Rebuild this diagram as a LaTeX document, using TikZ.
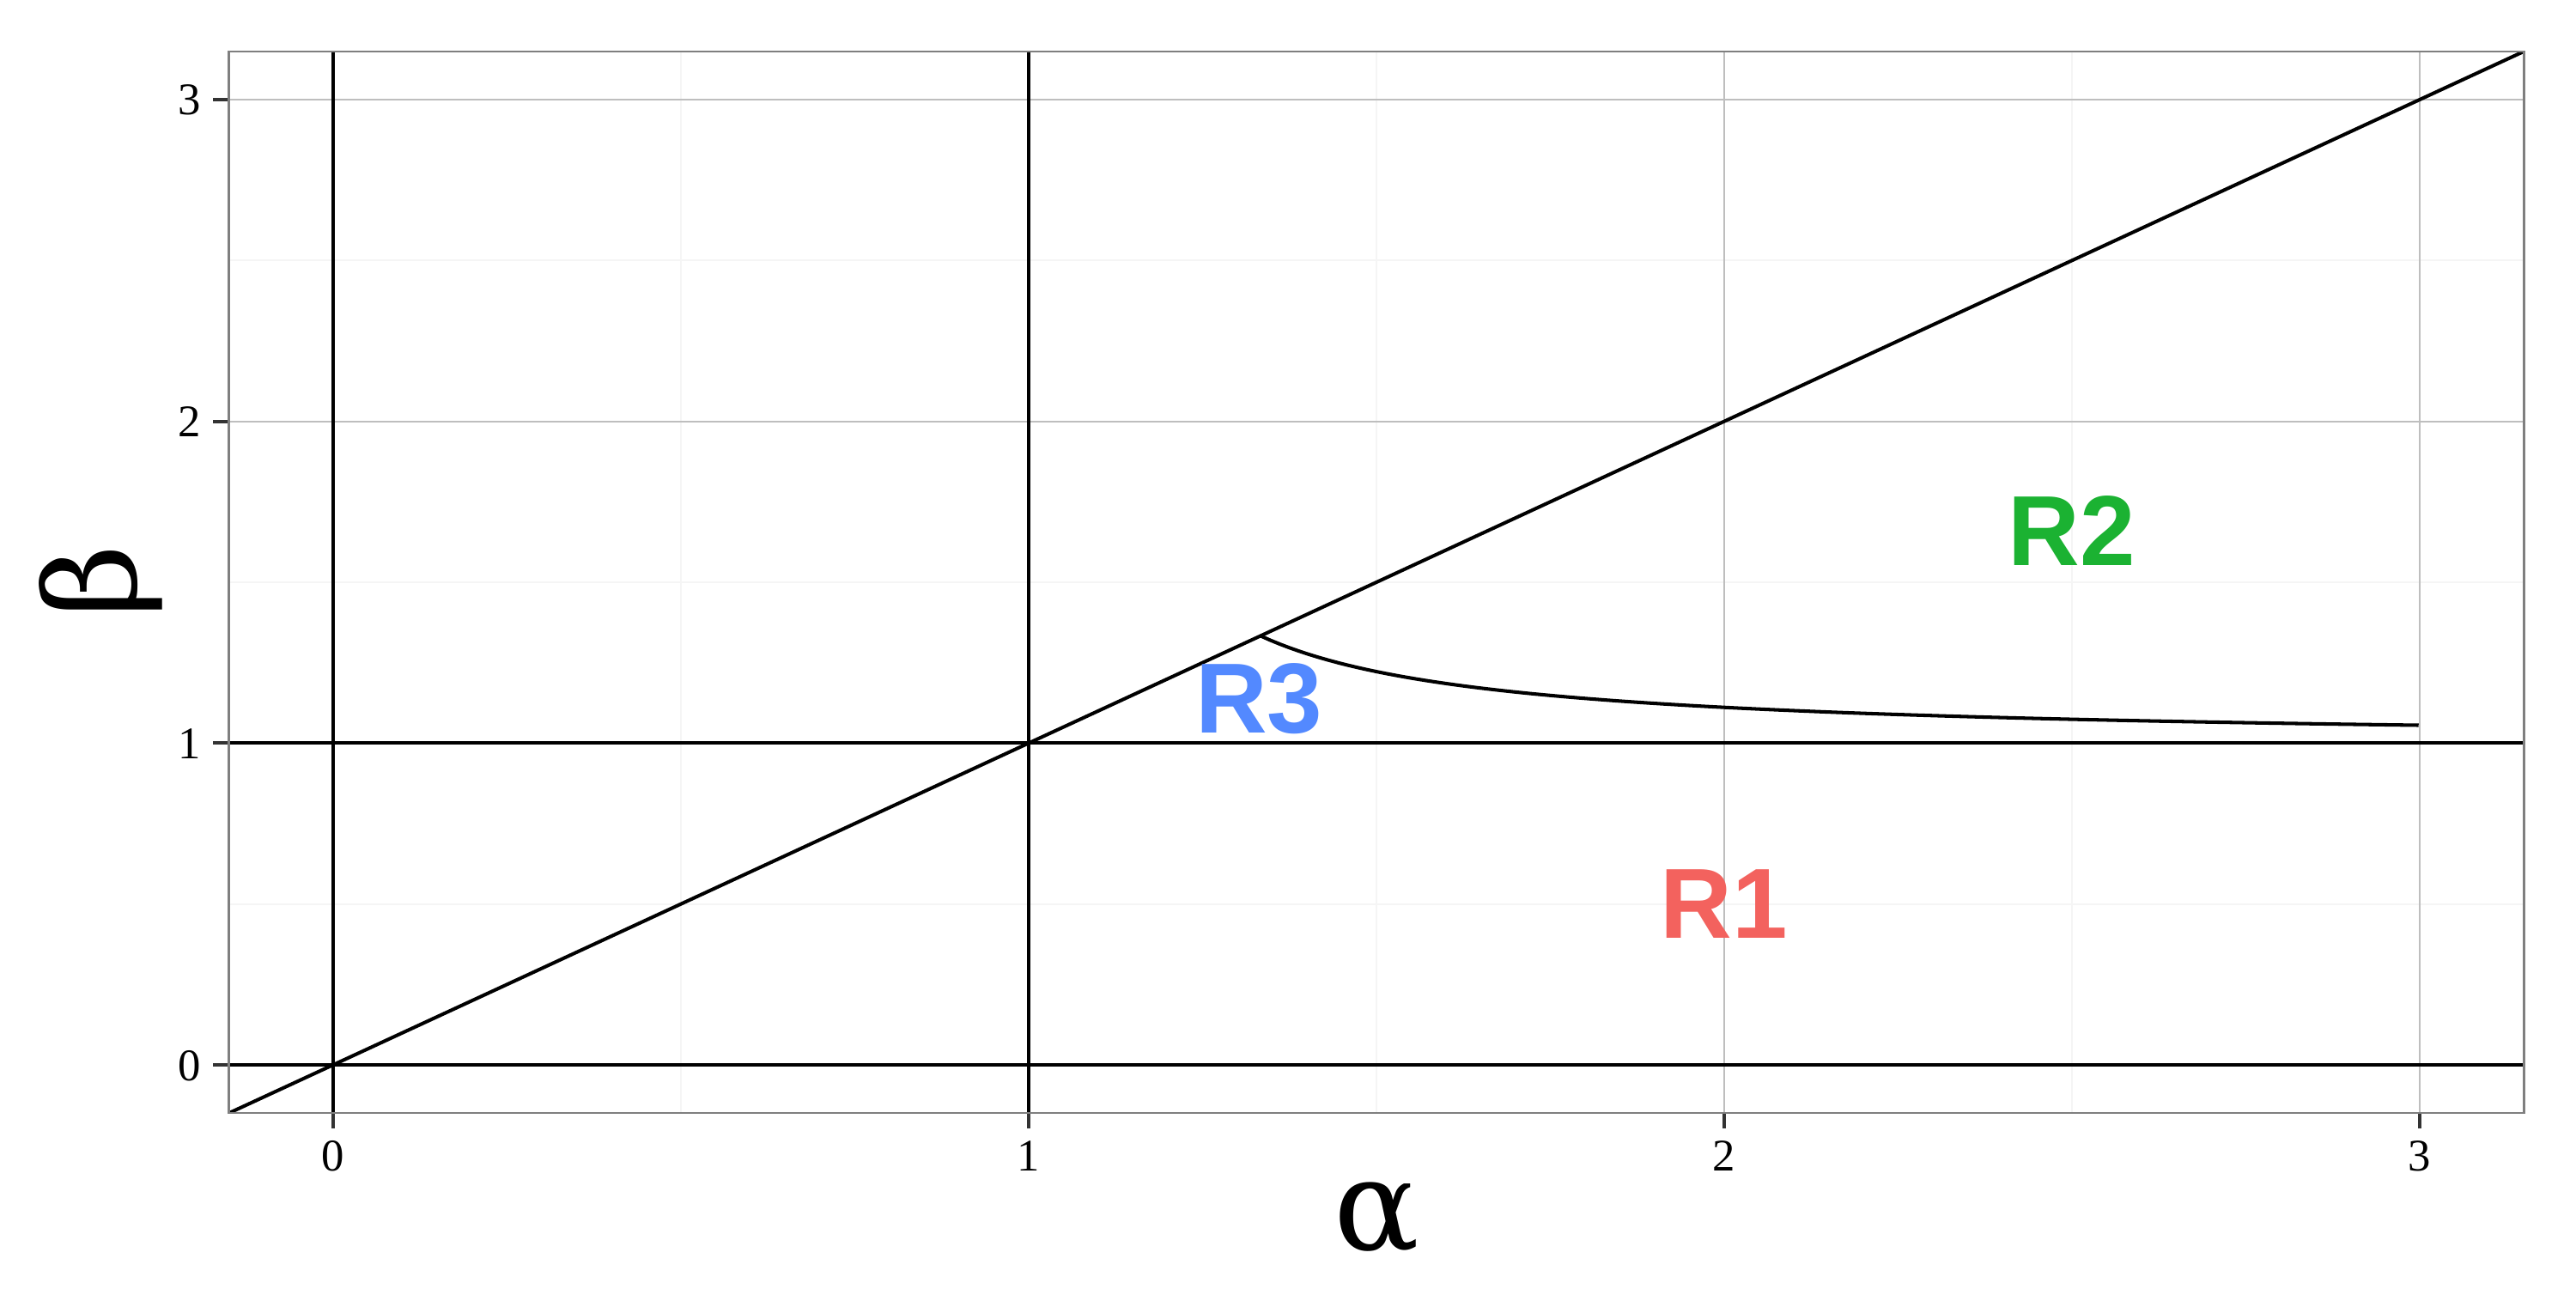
\documentclass[tikz,border=0pt]{standalone}
\usepackage{fontspec}
\setmainfont{Liberation Serif}
\newfontfamily\regfont{Liberation Sans}
\newfontfamily\greekfont{DejaVu Serif}
\definecolor{rone}{HTML}{F3625E}
\definecolor{rtwo}{HTML}{1BB232}
\definecolor{rthree}{HTML}{5389FF}
\definecolor{majorgrid}{HTML}{BEBEBE}
\definecolor{minorgrid}{HTML}{F5F5F5}
\definecolor{borderc}{HTML}{7F7F7F}
\definecolor{tickc}{HTML}{333333}
\tikzset{
  bline/.style={black, line width=1.15pt},
  majg/.style={majorgrid, line width=0.55pt},
  ming/.style={minorgrid, line width=0.55pt},
  tickmark/.style={tickc, line width=1.1pt},
  ticklab/.style={font=\fontsize{15}{18}\selectfont, inner sep=0pt},
  reglab/.style={font=\regfont\bfseries\fontsize{33}{40}\selectfont, inner sep=0pt},
  axtitle/.style={font=\greekfont\fontsize{42}{50}\selectfont, inner sep=0pt}
}
\begin{document}
\begin{tikzpicture}
\useasboundingbox (0,0) rectangle (30,15);
\fill[white] (0,0) rectangle (30,15);
\begin{scope}[shift={(3.88cm,2.60cm)}, x=8.10cm, y=3.7467cm]
  % grid
  \foreach \v in {0.5,1.5,2.5} {
    \draw[ming] (\v,-0.15) -- (\v,3.15);
    \draw[ming] (-0.15,\v) -- (3.15,\v);
  }
  \foreach \v in {0,1,2,3} {
    \draw[majg] (\v,-0.15) -- (\v,3.15);
    \draw[majg] (-0.15,\v) -- (3.15,\v);
  }
  % ticks
  \foreach \v in {0,1,2,3} {
    \draw[tickmark] (\v,-0.15) -- ++(0,-0.18cm);
    \draw[tickmark] (-0.15,\v) -- ++(-0.19cm,0);
    \node[ticklab, anchor=base] (xl\v) at ([yshift=-0.67cm]\v,-0.15) {\v};
    \node[ticklab, anchor=base east] (yl\v) at ([xshift=-0.32cm, yshift=-0.18cm]-0.15,\v) {\v};
  }
  % black lines
  \begin{scope}
    \clip (-0.15,-0.15) rectangle (3.15,3.15);
    \draw[bline] (0,-0.15) -- (0,3.15);
    \draw[bline] (1,-0.15) -- (1,3.15);
    \draw[bline] (-0.15,0) -- (3.15,0);
    \draw[bline] (-0.15,1) -- (3.15,1);
    \draw[bline] (-0.15,-0.15) -- (3.15,3.15);
    \draw[bline, line join=round] plot[domain=1.3333:3, samples=120] (\x, {1+1/(9*(\x-1))});
  \end{scope}
  % panel border
  \draw[borderc, line width=0.6pt] (-0.15,-0.15) rectangle (3.15,3.15);
  % region labels
  \node[reglab, text=rone] (r1) at (2,0.5) {R1};
  \node[reglab, text=rtwo] (r2) at (2.5,1.66) {R2};
  \node[reglab, text=rthree] (r3) at (1.331,1.137) {R3};
\end{scope}
% axis titles
\node[axtitle, anchor=base] (alpha) at (16.03,0.45) {α};
\node[axtitle, anchor=base, rotate=90] (beta) at (1.58,8.23) {β};
\end{tikzpicture}
\end{document}
